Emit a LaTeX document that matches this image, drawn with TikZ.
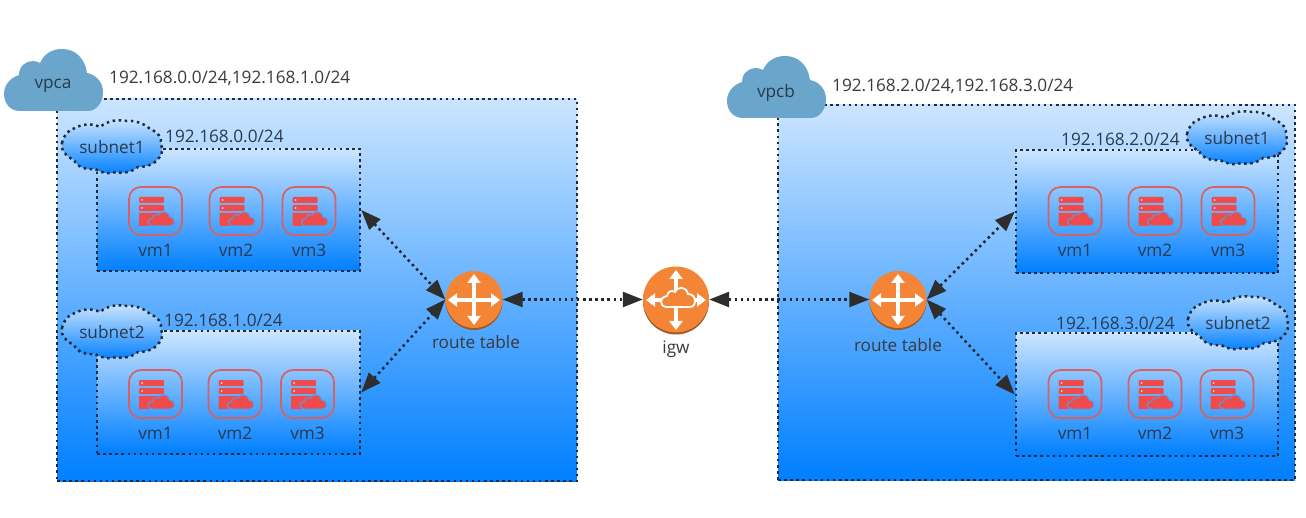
\documentclass[tikz,border=0pt]{standalone}
\usepackage{fontspec}
\setmainfont{Open Sans}
\usetikzlibrary{arrows.meta}
\definecolor{gradtop}{HTML}{CCE5FF}
\definecolor{gradbot}{HTML}{007FFF}
\definecolor{gapblue}{HTML}{4C9FF5}
\definecolor{dotink}{HTML}{1F2A36}
\definecolor{tipink}{HTML}{2E2E2E}
\definecolor{cloudblue}{HTML}{6AA6CB}
\definecolor{orangeR}{HTML}{F58536}
\definecolor{orangeD}{HTML}{9B5A28}
\definecolor{vmred}{HTML}{F04B4B}
\definecolor{vmedge}{HTML}{D9605F}
\definecolor{txtin}{HTML}{2B3A4C}
\definecolor{txtout}{HTML}{3A3A3A}
\tikzset{
  dots/.style={draw=dotink,line width=2.5pt,dash pattern=on 2.5pt off 3.6pt},
  gradbox/.style={dots,top color=gradtop,bottom color=gradbot,inner sep=0pt,rectangle},
  tagtext/.style={font=\fontsize{17.2}{20}\selectfont,text=txtout,inner sep=0pt},
  boxtext/.style={font=\fontsize{17.2}{20}\selectfont,text=txtin,inner sep=0pt},
  linkarrow/.style={dots,{Triangle[length=20pt,width=15pt,color=tipink]}-{Triangle[length=20pt,width=15pt,color=tipink]}},
  wayarrow/.style={white,line width=3.4pt,{Triangle[length=9pt,width=13pt]}-{Triangle[length=9pt,width=13pt]}},
  vmframe/.style={draw=vmedge,line width=1.7pt,rounded corners=12pt,minimum width=53pt,minimum height=48pt,inner sep=0pt,rectangle}
}
% solid cloud
\newcommand{\solidcloud}[4]{%
  \fill[cloudblue,shift={(#1,#2)}] (16,62) .. controls (6,62) and (0,54) .. (0,45)
    .. controls (0,36) and (6,29) .. (15,26) .. controls (15,17) and (22,12) .. (29,12)
    .. controls (32,12) and (34,13) .. (36,14) .. controls (40,5) and (48,0) .. (58,0)
    .. controls (71,0) and (81,9) .. (83,24) .. controls (93,26) and (99,34) .. (99,43)
    .. controls (99,54) and (92,62) .. (84,62) -- cycle;
  \node[boxtext] (#3) at (#1+49,#2+37) {#4};}
% dotted bumpy cloud
\newcommand{\bumpcloud}[4]{%
  \draw[dots,top color=gradtop,bottom color=gradbot,shift={(#1,#2)}]
    (0,23) .. controls (2,15) and (6,10) .. (13,8)
    .. controls (20,4) and (30,3) .. (38,7)
    .. controls (45,1) and (56,-1) .. (62,1)
    .. controls (72,0) and (82,3) .. (88,9)
    .. controls (96,12) and (100,18) .. (99,24)
    .. controls (102,30) and (99,37) .. (95,40)
    .. controls (90,46) and (82,47) .. (76,47)
    .. controls (70,52) and (60,54) .. (54,52)
    .. controls (46,55) and (38,52) .. (33,49)
    .. controls (24,50) and (15,47) .. (12,40)
    .. controls (5,37) and (-2,30) .. (0,23) -- cycle;
  \node[boxtext] (#3) at (#1+50,#2+27) {subnet#4};}
% virtual machine
\newcommand{\vmicon}[4]{%
  \node[vmframe] (#1) at (#2,#3) {};
  \begin{scope}[shift={(#2,#3)}]
    \fill[vmred,rounded corners=1pt] (-16.5,-14) rectangle (8.5,-8);
    \fill[vmred,rounded corners=1pt] (-16.5,-6) rectangle (8.5,0);
    \fill[gradtop] (-13.5,-11) circle (1pt) (-13.5,-3) circle (1pt);
    \fill[vmred] (-16.5,2) -- (8,2) -- (-3,8) -- (-6,15) -- (-16.5,15) -- cycle;
    \draw[gapblue,fill=vmred,line width=1pt] (-3,15) .. controls (-9,15) and (-9,7.5) .. (-3,7)
      .. controls (-2,3.5) and (1,3) .. (3,4) .. controls (5,-0.5) and (13,-0.5) .. (14,6)
      .. controls (20.5,6.5) and (20.5,15) .. (15,15) -- cycle;
  \end{scope}
  \node[boxtext] (#1t) at (#2,#3+39) {#4};}
% router
\newcommand{\routerdisc}[4]{%
  \fill[orangeD] (#2,#3+1.5) circle (#4);
  \node[circle,fill=orangeR,minimum size=2*#4 pt,inner sep=0pt] (#1) at (#2,#3-0.5) {};}
\begin{document}
\begin{tikzpicture}[x=1pt,y=-1pt]
\useasboundingbox (0,0) rectangle (1306,518);
\fill[white] (0,0) rectangle (1306,518);

% VPC boxes
\node[gradbox,minimum width=520pt,minimum height=382pt] (vpcabox) at (317,290) {};
\node[gradbox,minimum width=517pt,minimum height=375pt] (vpcbbox) at (1036.5,292.5) {};

\solidcloud{4}{49}{vpca}{vpca}
\solidcloud{727}{56}{vpcb}{vpcb}
\node[tagtext,anchor=west] (cidra) at (109,78) {192.168.0.0/24,192.168.1.0/24};
\node[tagtext,anchor=west] (cidrb) at (832,86) {192.168.2.0/24,192.168.3.0/24};

% Subnet boxes
\node[gradbox,minimum width=263pt,minimum height=122pt] (asubA) at (228.5,210) {};
\node[gradbox,minimum width=263pt,minimum height=123pt] (asubB) at (228.5,392.5) {};
\node[gradbox,minimum width=262pt,minimum height=123pt] (bsubA) at (1147,211.5) {};
\node[gradbox,minimum width=262pt,minimum height=123pt] (bsubB) at (1147,394.5) {};

\bumpcloud{62}{120}{cAa}{1}
\bumpcloud{62}{305}{cAb}{2}
\bumpcloud{1187}{111}{cBa}{1}
\bumpcloud{1188}{296}{cBb}{2}

\node[boxtext,anchor=west] (nAa) at (165,136) {192.168.0.0/24};
\node[boxtext,anchor=west] (nAb) at (164,320) {192.168.1.0/24};
\node[boxtext,anchor=west] (nBa) at (1061,139) {192.168.2.0/24};
\node[boxtext,anchor=west] (nBb) at (1056,323) {192.168.3.0/24};

% Virtual machines
\vmicon{a1}{155.5}{211}{vm1}
\vmicon{a2}{236}{211}{vm2}
\vmicon{a3}{309}{211}{vm3}
\vmicon{a4}{155.5}{394}{vm1}
\vmicon{a5}{235}{394}{vm2}
\vmicon{a6}{307.5}{394}{vm3}
\vmicon{b1}{1075}{211}{vm1}
\vmicon{b2}{1155}{211}{vm2}
\vmicon{b3}{1228}{211}{vm3}
\vmicon{b4}{1075}{394}{vm1}
\vmicon{b5}{1155}{394}{vm2}
\vmicon{b6}{1227}{394}{vm3}

% Routers
\routerdisc{rta}{474}{300}{28.5}
\routerdisc{rtb}{898}{300}{28.5}
\routerdisc{igw}{676}{300}{33}

\foreach \cx in {474,898}{
  \draw[wayarrow] (\cx-26,300) -- (\cx+26,300);
  \draw[wayarrow] (\cx,274) -- (\cx,325);
}
\draw[wayarrow] (646,300) -- (706,300);
\draw[wayarrow] (676,270) -- (676,330);
\draw[white,line width=1.8pt,fill=orangeR,shift={(661,287)}]
  (6,20) .. controls (-2,20) and (-2,10) .. (6,9) .. controls (7,4) and (11,3) .. (14,5)
  .. controls (17,-1) and (25,-1) .. (27,7) .. controls (36,7) and (36,20) .. (29,20) -- cycle;

\node[tagtext] (rtaT) at (476,342) {route table};
\node[tagtext] (rtbT) at (898,345) {route table};
\node[tagtext] (igwT) at (676,349) {igw};

% Links
\draw[linkarrow] (asubA.east) -- (rta.west);
\draw[linkarrow] (asubB.east) -- (rta.west);
\draw[linkarrow] (rta.east) -- (igw.west);
\draw[linkarrow] (igw.east) -- (rtb.west);
\draw[linkarrow] (rtb.east) -- (bsubA.west);
\draw[linkarrow] (rtb.east) -- (bsubB.west);
\end{tikzpicture}
\end{document}
